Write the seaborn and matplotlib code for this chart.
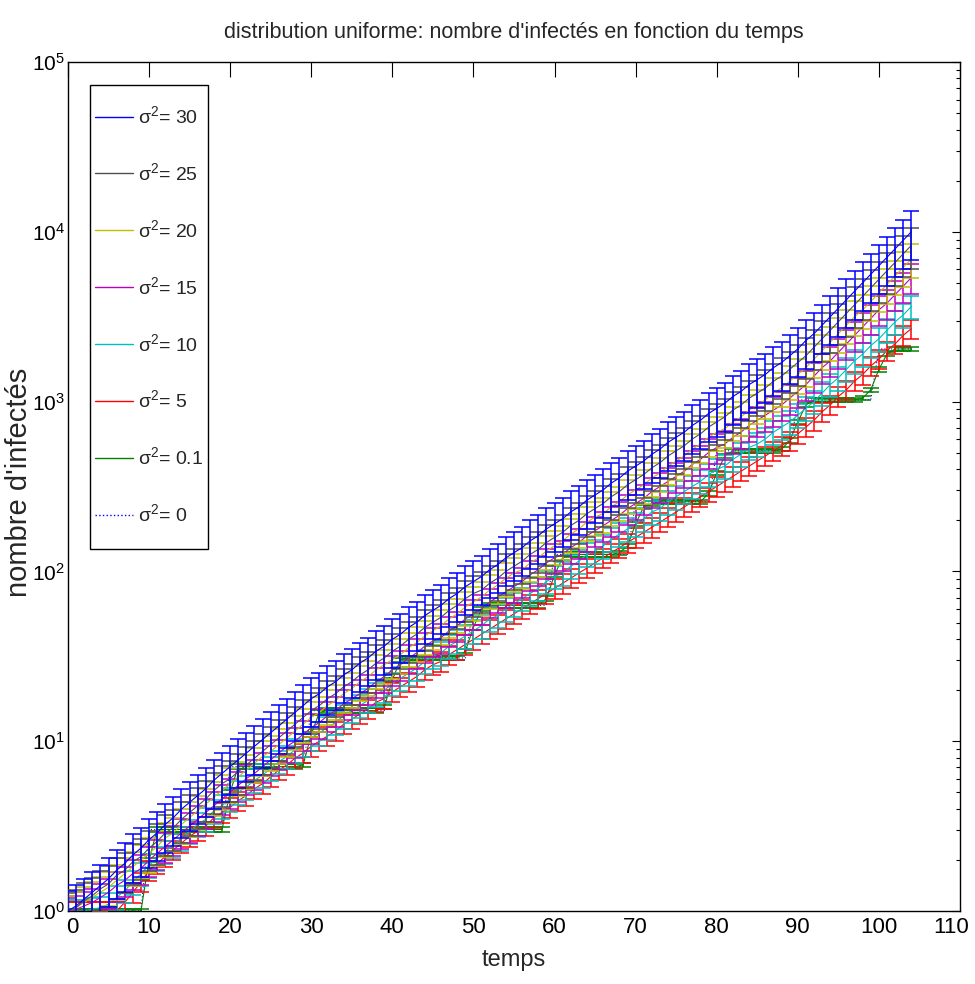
import numpy as np
import pandas as pd
import matplotlib
matplotlib.use('Agg')
import matplotlib.pyplot as plt
import matplotlib.transforms as mtransforms
from matplotlib.lines import Line2D
from matplotlib.legend_handler import HandlerLine2D
from matplotlib.ticker import LogLocator, NullFormatter
import seaborn as sns

# temps (one point per time unit)
temps = list(range(105))

# log10 of the mean number of infected
log10_s30 = [0.00, 0.03, 0.07, 0.11, 0.15, 0.19, 0.24, 0.28, 0.33, 0.37,
             0.42, 0.46, 0.51, 0.55, 0.60, 0.64, 0.68, 0.72, 0.77, 0.81,
             0.85, 0.89, 0.93, 0.97, 1.01, 1.05, 1.09, 1.13, 1.17, 1.21,
             1.25, 1.28, 1.32, 1.35, 1.39, 1.42, 1.46, 1.49, 1.53, 1.56,
             1.60, 1.63, 1.67, 1.70, 1.74, 1.77, 1.80, 1.84, 1.87, 1.91,
             1.94, 1.97, 2.01, 2.04, 2.08, 2.11, 2.14, 2.18, 2.21, 2.25,
             2.28, 2.31, 2.35, 2.38, 2.42, 2.45, 2.48, 2.52, 2.55, 2.59,
             2.62, 2.65, 2.69, 2.72, 2.76, 2.79, 2.82, 2.86, 2.89, 2.93,
             2.96, 2.99, 3.03, 3.06, 3.10, 3.13, 3.16, 3.20, 3.23, 3.27,
             3.31, 3.36, 3.40, 3.45, 3.50, 3.55, 3.60, 3.65, 3.70, 3.75,
             3.80, 3.85, 3.90, 3.95, 4.00]
log10_s25 = [0.00, 0.02, 0.06, 0.09, 0.13, 0.16, 0.21, 0.24, 0.29, 0.32,
             0.37, 0.41, 0.46, 0.49, 0.54, 0.58, 0.62, 0.66, 0.71, 0.75,
             0.78, 0.82, 0.86, 0.90, 0.94, 0.98, 1.02, 1.06, 1.10, 1.14,
             1.18, 1.21, 1.25, 1.28, 1.32, 1.35, 1.39, 1.42, 1.46, 1.49,
             1.53, 1.56, 1.60, 1.63, 1.67, 1.70, 1.73, 1.77, 1.80, 1.84,
             1.87, 1.89, 1.93, 1.96, 2.00, 2.03, 2.06, 2.10, 2.13, 2.17,
             2.20, 2.23, 2.27, 2.30, 2.34, 2.37, 2.40, 2.44, 2.47, 2.51,
             2.54, 2.57, 2.61, 2.64, 2.68, 2.71, 2.74, 2.78, 2.81, 2.85,
             2.88, 2.91, 2.95, 2.98, 3.02, 3.05, 3.08, 3.12, 3.15, 3.19,
             3.23, 3.27, 3.32, 3.37, 3.42, 3.47, 3.52, 3.57, 3.62, 3.67,
             3.72, 3.77, 3.82, 3.87, 3.92]
log10_s20 = [0.00, 0.02, 0.05, 0.08, 0.11, 0.14, 0.18, 0.22, 0.26, 0.30,
             0.34, 0.38, 0.43, 0.46, 0.51, 0.55, 0.59, 0.63, 0.67, 0.71,
             0.75, 0.79, 0.83, 0.87, 0.91, 0.94, 0.98, 1.02, 1.06, 1.10,
             1.14, 1.17, 1.21, 1.24, 1.28, 1.31, 1.35, 1.38, 1.42, 1.45,
             1.48, 1.51, 1.55, 1.58, 1.62, 1.65, 1.68, 1.72, 1.75, 1.79,
             1.82, 1.85, 1.89, 1.92, 1.96, 1.99, 2.01, 2.05, 2.08, 2.12,
             2.15, 2.18, 2.22, 2.25, 2.29, 2.32, 2.34, 2.38, 2.41, 2.45,
             2.48, 2.51, 2.55, 2.58, 2.62, 2.65, 2.68, 2.72, 2.75, 2.79,
             2.82, 2.84, 2.88, 2.91, 2.95, 2.98, 3.01, 3.05, 3.08, 3.12,
             3.16, 3.20, 3.25, 3.30, 3.35, 3.40, 3.45, 3.50, 3.54, 3.59,
             3.64, 3.69, 3.74, 3.79, 3.84]
log10_s15 = [0.00, 0.01, 0.03, 0.05, 0.08, 0.11, 0.15, 0.18, 0.22, 0.25,
             0.30, 0.34, 0.38, 0.42, 0.46, 0.50, 0.54, 0.58, 0.62, 0.66,
             0.70, 0.74, 0.78, 0.81, 0.85, 0.89, 0.93, 0.97, 1.00, 1.04,
             1.08, 1.11, 1.15, 1.18, 1.22, 1.25, 1.28, 1.31, 1.35, 1.38,
             1.42, 1.45, 1.49, 1.52, 1.56, 1.59, 1.61, 1.65, 1.68, 1.72,
             1.75, 1.78, 1.82, 1.85, 1.88, 1.91, 1.94, 1.98, 2.01, 2.05,
             2.08, 2.10, 2.14, 2.17, 2.21, 2.24, 2.27, 2.30, 2.33, 2.37,
             2.40, 2.43, 2.47, 2.50, 2.53, 2.56, 2.59, 2.63, 2.66, 2.70,
             2.73, 2.75, 2.79, 2.82, 2.86, 2.89, 2.92, 2.95, 2.98, 3.02,
             3.06, 3.10, 3.15, 3.20, 3.24, 3.29, 3.34, 3.39, 3.44, 3.49,
             3.54, 3.58, 3.63, 3.68, 3.73]
log10_s10 = [0.00, 0.00, 0.00, 0.01, 0.02, 0.04, 0.08, 0.12, 0.17, 0.22,
             0.27, 0.31, 0.35, 0.39, 0.43, 0.47, 0.51, 0.54, 0.59, 0.62,
             0.66, 0.70, 0.73, 0.77, 0.80, 0.84, 0.88, 0.91, 0.95, 0.98,
             1.02, 1.05, 1.08, 1.11, 1.15, 1.18, 1.21, 1.24, 1.28, 1.30,
             1.34, 1.37, 1.40, 1.43, 1.47, 1.50, 1.52, 1.56, 1.59, 1.62,
             1.65, 1.68, 1.72, 1.74, 1.78, 1.81, 1.84, 1.87, 1.90, 1.94,
             1.97, 1.99, 2.03, 2.06, 2.10, 2.12, 2.15, 2.19, 2.22, 2.25,
             2.28, 2.31, 2.35, 2.37, 2.41, 2.44, 2.47, 2.50, 2.53, 2.57,
             2.60, 2.62, 2.66, 2.69, 2.73, 2.75, 2.78, 2.82, 2.85, 2.88,
             2.92, 2.96, 3.00, 3.05, 3.10, 3.14, 3.19, 3.24, 3.28, 3.33,
             3.37, 3.42, 3.47, 3.51, 3.56]
log10_s5 = [0.00, 0.00, 0.00, 0.00, 0.00, 0.00, 0.00, 0.05, 0.11, 0.17,
            0.24, 0.28, 0.32, 0.36, 0.40, 0.44, 0.47, 0.50, 0.55, 0.58,
            0.61, 0.65, 0.68, 0.72, 0.75, 0.79, 0.83, 0.86, 0.90, 0.93,
            0.97, 1.00, 1.03, 1.06, 1.10, 1.13, 1.16, 1.19, 1.23, 1.25,
            1.29, 1.32, 1.35, 1.38, 1.42, 1.45, 1.47, 1.51, 1.54, 1.57,
            1.60, 1.63, 1.66, 1.69, 1.72, 1.75, 1.78, 1.81, 1.84, 1.87,
            1.90, 1.93, 1.96, 1.99, 2.02, 2.05, 2.08, 2.11, 2.14, 2.17,
            2.20, 2.23, 2.26, 2.29, 2.32, 2.35, 2.38, 2.41, 2.44, 2.47,
            2.50, 2.53, 2.56, 2.59, 2.62, 2.65, 2.68, 2.71, 2.74, 2.77,
            2.81, 2.85, 2.89, 2.94, 2.98, 3.03, 3.07, 3.12, 3.16, 3.21,
            3.25, 3.30, 3.34, 3.39, 3.43]
log10_s01 = [0.00, 0.00, 0.00, 0.00, 0.00, 0.00, 0.00, 0.00, 0.00, 0.00,
             0.30, 0.48, 0.48, 0.48, 0.48, 0.48, 0.48, 0.48, 0.48, 0.48,
             0.70, 0.85, 0.85, 0.85, 0.85, 0.85, 0.85, 0.85, 0.85, 0.86,
             1.04, 1.17, 1.18, 1.18, 1.18, 1.18, 1.18, 1.18, 1.18, 1.20,
             1.36, 1.48, 1.49, 1.49, 1.49, 1.49, 1.49, 1.49, 1.49, 1.53,
             1.67, 1.78, 1.80, 1.80, 1.80, 1.80, 1.80, 1.80, 1.80, 1.84,
             1.98, 2.08, 2.10, 2.10, 2.10, 2.10, 2.10, 2.10, 2.11, 2.15,
             2.28, 2.38, 2.40, 2.41, 2.41, 2.41, 2.41, 2.41, 2.41, 2.46,
             2.58, 2.68, 2.71, 2.71, 2.71, 2.71, 2.71, 2.71, 2.72, 2.77,
             2.88, 2.98, 3.01, 3.01, 3.01, 3.01, 3.01, 3.01, 3.02, 3.07,
             3.19, 3.28, 3.31, 3.31, 3.31]
log10_s0 = [0.00, 0.00, 0.00, 0.00, 0.00, 0.00, 0.00, 0.00, 0.00, 0.00,
            0.48, 0.48, 0.48, 0.48, 0.48, 0.48, 0.48, 0.48, 0.48, 0.48,
            0.85, 0.85, 0.85, 0.85, 0.85, 0.85, 0.85, 0.85, 0.85, 0.85,
            1.18, 1.18, 1.18, 1.18, 1.18, 1.18, 1.18, 1.18, 1.18, 1.18,
            1.49, 1.49, 1.49, 1.49, 1.49, 1.49, 1.49, 1.49, 1.49, 1.49,
            1.80, 1.80, 1.80, 1.80, 1.80, 1.80, 1.80, 1.80, 1.80, 1.80,
            2.10, 2.10, 2.10, 2.10, 2.10, 2.10, 2.10, 2.10, 2.10, 2.10,
            2.41, 2.41, 2.41, 2.41, 2.41, 2.41, 2.41, 2.41, 2.41, 2.41,
            2.71, 2.71, 2.71, 2.71, 2.71, 2.71, 2.71, 2.71, 2.71, 2.71,
            3.01, 3.01, 3.01, 3.01, 3.01, 3.01, 3.01, 3.01, 3.01, 3.01,
            3.31, 3.31, 3.31, 3.31, 3.31]

sigma2 = ['30', '25', '20', '15', '10', '5', '0.1', '0']
# relative half-height of the error bars for each series
rel_err = [0.32, 0.27, 0.23, 0.20, 0.16, 0.13, 0.03, 0.0]

series = [log10_s30, log10_s25, log10_s20, log10_s15,
          log10_s10, log10_s5, log10_s01, log10_s0]
colors = ['#0000ff', '#505050', '#bfbf00', '#c000c0',
          '#00bfbf', '#ff0000', '#008000', '#0000ff']

frames = []
for s, logs in zip(sigma2, series):
    frames.append(pd.DataFrame({'temps': temps,
                                'n': 10 ** np.array(logs),
                                'sigma2': s}))
df = pd.concat(frames, ignore_index=True)


class HandlerMidLine(HandlerLine2D):
    # legend line level with the middle of the label text
    def create_artists(self, legend, orig_handle, xdescent, ydescent,
                       width, height, fontsize, trans):
        arts = super().create_artists(legend, orig_handle, xdescent, ydescent,
                                      width, height, fontsize, trans)
        for a in arts:
            a.set_ydata(np.full_like(np.asarray(a.get_xdata(), float),
                                     0.33 * fontsize))
        return arts


sns.set_theme(style='white')
plt.rcParams['font.family'] = ['Liberation Sans', 'DejaVu Sans']
plt.rcParams['mathtext.default'] = 'regular'

fig = plt.figure(figsize=(9.75, 9.84), dpi=100)
ax = fig.add_axes([0.0697, 0.0742, 0.9149, 0.8628])
ax.set_yscale('log')

palette = dict(zip(sigma2, colors))
dashes = {s: '' for s in sigma2}
dashes['0'] = (1, 2)
sns.lineplot(data=df, x='temps', y='n', hue='sigma2', style='sigma2',
             palette=palette, dashes=dashes, hue_order=sigma2,
             style_order=sigma2, estimator=None, linewidth=0.8,
             legend=False, ax=ax)
# the high variance runs sit on top, sigma2 = 0 at the bottom
n_s = len(sigma2)
for i, line in enumerate(ax.get_lines()):
    line.set_zorder(2 + (n_s - i) * 0.1 + 0.05)

# error bars (the sigma2 = 0 runs have no spread, so no bars)
for i, s in enumerate(sigma2[:-1]):
    sub = df[df['sigma2'] == s]
    ax.errorbar(sub['temps'], sub['n'], yerr=sub['n'] * rel_err[i],
                fmt='none', ecolor=colors[i], elinewidth=1.1,
                capsize=6, capthick=1.1, zorder=2 + (n_s - i) * 0.1)

ax.set_xlim(0, 110)
ax.set_ylim(1, 1e5)
ax.set_xticks(range(0, 111, 10))
ax.yaxis.set_major_locator(LogLocator(base=10, numticks=10))
ax.yaxis.set_minor_locator(LogLocator(base=10, subs=np.arange(2, 10), numticks=20))
ax.yaxis.set_minor_formatter(NullFormatter())

ax.tick_params(axis='both', which='both', direction='in', top=True,
               right=True, colors='black')
ax.tick_params(axis='x', which='major', length=10.5, width=0.8, pad=4,
               labelsize=16)
ax.tick_params(axis='y', which='major', length=6, width=0.8, pad=2,
               labelsize=15)
ax.tick_params(axis='y', which='minor', length=3.2, width=0.8)
for sp in ax.spines.values():
    sp.set_color('black')
    sp.set_linewidth(1.0)

# nudge the end x labels as in the original (first away from 10^0,
# last inside the figure)
xt = ax.xaxis.get_major_ticks()
first = xt[0].label1
first.set_transform(first.get_transform() +
                    mtransforms.ScaledTranslation(0.04, 0, fig.dpi_scale_trans))
last = xt[-1].label1
last.set_transform(last.get_transform() +
                   mtransforms.ScaledTranslation(-0.09, 0, fig.dpi_scale_trans))

ax.set_title("distribution uniforme: nombre d'infectés en fonction du temps",
             fontsize=15.5, pad=17)
ax.set_xlabel('temps', fontsize=17)
ax.xaxis.set_label_coords(0.5, -0.045)
ax.set_ylabel("nombre d'infectés", fontsize=21)
ax.yaxis.set_label_coords(-0.0395, 0.505)

handles = []
for i, s in enumerate(sigma2):
    handles.append(Line2D([], [], color=colors[i], lw=1.0,
                          ls=':' if s == '0' else '-'))
leg = ax.legend(handles, ['σ$^2$= ' + s for s in sigma2],
                loc='upper left', bbox_to_anchor=(0.0247, 0.973),
                borderaxespad=0, fontsize=14, handlelength=1.95,
                handleheight=4.05, handletextpad=0.25, labelspacing=0.05,
                borderpad=0.25, fancybox=False, framealpha=1,
                handler_map={Line2D: HandlerMidLine()})
leg.get_frame().set_edgecolor('black')
leg.get_frame().set_linewidth(1.0)

fig.savefig('out.png', dpi=100)
